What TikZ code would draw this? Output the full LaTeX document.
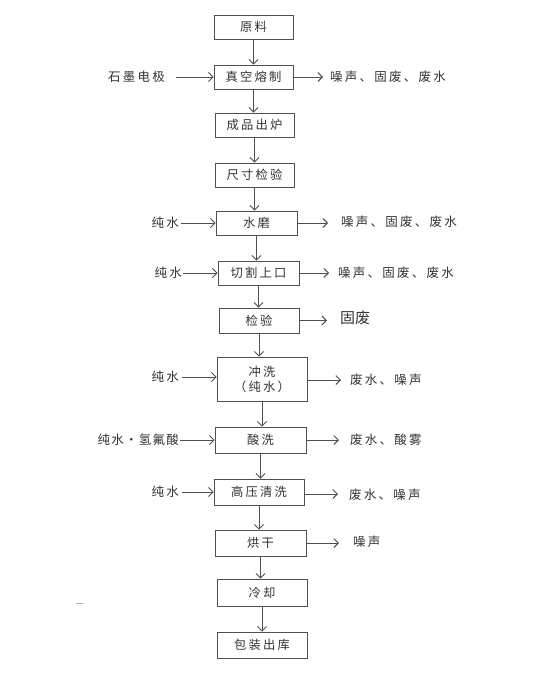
\documentclass[tikz,border=0pt]{standalone}
\usepackage{fontspec}
\setmainfont{Noto Sans CJK SC}
\newfontfamily\spaced[LetterSpace=18]{Noto Sans CJK SC}
\newfontfamily\spacedb[LetterSpace=10]{Noto Sans CJK SC}
\usetikzlibrary{arrows.meta}
\definecolor{linec}{HTML}{505050}
\definecolor{textc}{HTML}{333333}
\begin{document}
\begin{tikzpicture}[x=1pt,y=-1pt,
  box/.style={draw=linec, line width=0.9pt, minimum width=#1, minimum height=24pt, inner sep=0pt,
    font=\spaced\fontsize{12.3}{15}\selectfont, text=textc, align=center},
  arr/.style={draw=linec, line width=0.9pt, -{Straight Barb[length=4.5pt,width=9pt]}},
  lab/.style={font=\spaced\fontsize{12.5}{15}\selectfont, text=textc, inner sep=0pt},
  labl/.style={font=\spacedb\fontsize{12.5}{15}\selectfont, text=textc, inner sep=0pt},
  big/.style={font=\fontsize{15}{18}\selectfont, text=textc, inner sep=0pt}]
\useasboundingbox[fill=white] (0,0) rectangle (546,680);
% process boxes
\node[box=79pt] (b1) at (253.5,27) {原料};
\node[box=79pt] (b2) at (253.5,77) {真空熔制};
\node[box=79pt] (b3) at (254.5,125) {成品出炉};
\node[box=79pt] (b4) at (254.5,175) {尺寸检验};
\node[box=81pt] (b5) at (256.5,223) {水磨};
\node[box=81pt] (b6) at (258.5,273) {切割上口};
\node[box=80pt, minimum height=25pt] (b7) at (259,320.5) {检验};
\node[box=90pt, minimum height=44pt] (b8) at (262,379) {冲洗\\（纯水）};
\node[box=91pt, minimum height=26pt] (b9) at (260.5,440) {酸洗};
\node[box=90pt, minimum height=26pt] (b10) at (259,492) {高压清洗};
\node[box=91pt, minimum height=26pt] (b11) at (260.5,543) {烘干};
\node[box=90pt, minimum height=27pt] (b12) at (262,592.5) {冷却};
\node[box=90pt, minimum height=26pt] (b13) at (262,645) {包装出库};
% vertical flow
\foreach \a/\b in {b1/b2,b2/b3,b3/b4,b4/b5,b5/b6,b6/b7,b7/b8,b8/b9,b9/b10,b10/b11,b11/b12,b12/b13}
  \draw[arr] (\a.south) -- (\a.south |- \b.north);
% left inputs
\coordinate (l2) at (176,77);
\node[lab, anchor=east] (t2) at (165,77) {石墨电极};
\draw[arr] (l2) -- (b2.west |- l2);
\coordinate (l5) at (181,223);
\node[lab, anchor=east] (t5) at (179,223) {纯水};
\draw[arr] (l5) -- (b5.west |- l5);
\coordinate (l6) at (183,273);
\node[lab, anchor=east] (t6) at (182,273) {纯水};
\draw[arr] (l6) -- (b6.west |- l6);
\coordinate (l8) at (182,377);
\node[lab, anchor=east] (t8) at (179,377) {纯水};
\draw[arr] (l8) -- (b8.west |- l8);
\coordinate (l9) at (180,440);
\node[labl, anchor=east] (t9) at (179,440) {纯水·氢氟酸};
\draw[arr] (l9) -- (b9.west |- l9);
\coordinate (l10) at (182,492);
\node[lab, anchor=east] (t10) at (179,492) {纯水};
\draw[arr] (l10) -- (b10.west |- l10);
% right outputs
\coordinate (r2) at (323,77);
\draw[arr] (b2.east |- r2) -- (r2);
\node[lab, anchor=west] (o2) at (330,77) {噪声、固废、废水};
\coordinate (r5) at (328,223);
\draw[arr] (b5.east |- r5) -- (r5);
\node[lab, anchor=west] (o5) at (341,222) {噪声、固废、废水};
\coordinate (r6) at (329,273);
\draw[arr] (b6.east |- r6) -- (r6);
\node[lab, anchor=west] (o6) at (338,273) {噪声、固废、废水};
\coordinate (r7) at (327,320.5);
\draw[arr] (b7.east |- r7) -- (r7);
\node[big, anchor=west] (o7) at (340,318) {固废};
\coordinate (r8) at (341,380);
\draw[arr] (b8.east |- r8) -- (r8);
\node[lab, anchor=west] (o8) at (350,380) {废水、噪声};
\coordinate (r9) at (339,440);
\draw[arr] (b9.east |- r9) -- (r9);
\node[lab, anchor=west] (o9) at (350,440) {废水、酸雾};
\coordinate (r10) at (338,494);
\draw[arr] (b10.east |- r10) -- (r10);
\node[lab, anchor=west] (o10) at (349,495) {废水、噪声};
\coordinate (r11) at (339,543);
\draw[arr] (b11.east |- r11) -- (r11);
\node[lab, anchor=west] (o11) at (353,542) {噪声};
% stray mark
\draw[gray!60, line width=0.6pt] (76,603) -- (83,603);
\end{tikzpicture}
\end{document}
